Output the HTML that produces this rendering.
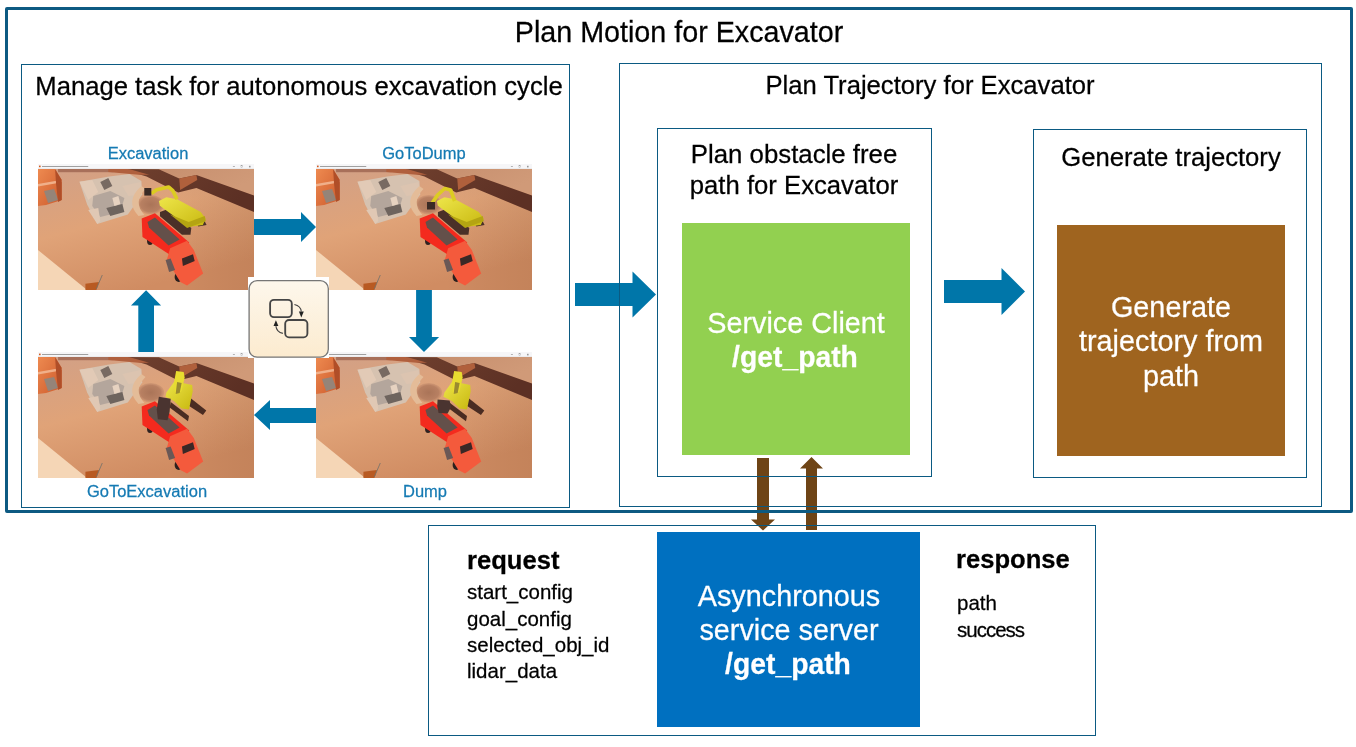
<!DOCTYPE html>
<html><head><meta charset="utf-8">
<style>
html,body{margin:0;padding:0;background:#fff;}
body{width:1356px;height:747px;position:relative;overflow:hidden;font-family:"Liberation Sans",sans-serif;color:#000;}
.a{position:absolute;box-sizing:border-box;}
.bx{position:absolute;box-sizing:border-box;border:1px solid #0b5a82;}
.t{position:absolute;white-space:nowrap;line-height:1;will-change:transform;-webkit-text-stroke:0.25px currentColor;transform:scaleY(1.02);transform-origin:50% 84.65%;}
.c{text-align:center;width:600px;}
.w{color:#fff;}
.lab{color:#157ab3;font-size:16.5px;}
svg{position:absolute;overflow:visible;}
</style></head>
<body>
<!-- blue arrows -->
<svg width="1356" height="747" style="left:0;top:0;">
<g fill="#0076a9">
<polygon points="253,219 301,219 301,212 316,227 301,242 301,235 253,235"/>
<polygon points="316,408 270,408 270,400 254,415 270,430 270,423 316,423"/>
<polygon points="138.3,352 138.3,305.5 131,305.5 146.1,290.3 161.1,305.5 154,305.5 154,352"/>
<polygon points="416.1,290 431.9,290 431.9,337 439.1,337 424,352 409,337 416.1,337"/>
<polygon points="575,283 632.5,283 632.5,271.5 656,294.5 632.5,317.5 632.5,306 575,306"/>
<polygon points="944,280 1001.5,280 1001.5,268 1025,291.5 1001.5,315 1001.5,303 944,303"/>
</g>
<g fill="#6e4416">
<polygon points="757,458 769,458 769,519.5 775,519.5 763,530.5 751,519.5 757,519.5"/>
<polygon points="806,530 817,530 817,468.5 823,468.5 811.5,457 800,468.5 806,468.5"/>
</g>
</svg>
<!-- outer frame -->
<div class="a" style="left:5px;top:7px;width:1348px;height:506px;border:3px solid #0d5a82;border-radius:2px;"></div>
<div class="t c" style="left:379px;top:17.7px;font-size:28.7px;">Plan Motion for Excavator</div>

<!-- left box -->
<div class="bx" style="left:21px;top:64px;width:549px;height:444px;"></div>
<div class="t c" style="left:-1px;top:74.3px;font-size:25.65px;">Manage task for autonomous excavation cycle</div>

<!-- right box -->
<div class="bx" style="left:619px;top:63px;width:703px;height:444px;"></div>
<div class="t c" style="left:630px;top:72.6px;font-size:25.65px;">Plan Trajectory for Excavator</div>

<!-- plan obstacle box -->
<div class="bx" style="left:657px;top:128px;width:275px;height:349px;"></div>
<div class="t c" style="left:494px;top:141.9px;font-size:25.8px;">Plan obstacle free</div>
<div class="t c" style="left:494px;top:173.1px;font-size:25.7px;">path for Excavator</div>
<div class="a" style="left:682px;top:223px;width:228px;height:232px;background:#92d050;"></div>
<div class="t c w" style="left:495.5px;top:308.9px;font-size:28.8px;">Service Client</div>
<div class="t c w" style="left:494.8px;top:343px;font-size:28.3px;font-weight:bold;">/get_path</div>

<!-- generate trajectory box -->
<div class="bx" style="left:1033px;top:129px;width:274px;height:349px;"></div>
<div class="t c" style="left:871px;top:145.3px;font-size:25.65px;">Generate trajectory</div>
<div class="a" style="left:1057px;top:225px;width:228px;height:231px;background:#9f641f;"></div>
<div class="t c w" style="left:871px;top:293.2px;font-size:28.8px;">Generate</div>
<div class="t c w" style="left:870.5px;top:326.6px;font-size:28.8px;">trajectory from</div>
<div class="t c w" style="left:871px;top:362px;font-size:28.8px;">path</div>

<!-- bottom box -->
<div class="bx" style="left:428px;top:525px;width:668px;height:211px;"></div>
<div class="a" style="left:657px;top:532px;width:263px;height:195px;background:#0070c0;"></div>
<div class="t c w" style="left:488.7px;top:581.8px;font-size:28.8px;">Asynchronous</div>
<div class="t c w" style="left:488.7px;top:615.8px;font-size:28.8px;">service server</div>
<div class="t c w" style="left:488px;top:650.4px;font-size:28.3px;font-weight:bold;">/get_path</div>

<div class="t" style="left:467px;top:548.4px;font-size:25.6px;font-weight:bold;">request</div>
<div class="t" style="left:466.5px;top:581.6px;font-size:20.5px;">start_config</div>
<div class="t" style="left:466.5px;top:608.6px;font-size:20.5px;">goal_config</div>
<div class="t" style="left:466.5px;top:635.3px;font-size:20.5px;">selected_obj_id</div>
<div class="t" style="left:466.5px;top:660.6px;font-size:20.5px;">lidar_data</div>

<div class="t" style="left:955.5px;top:547.1px;font-size:25.6px;font-weight:bold;">response</div>
<div class="t" style="left:957px;top:593.2px;font-size:20.5px;">path</div>
<div class="t" style="left:957px;top:620px;font-size:20.5px;letter-spacing:-1px;">success</div>

<svg width="0" height="0" style="left:0;top:0;">
<defs>
<linearGradient id="sand" x1="0" y1="0" x2="0.45" y2="1">
 <stop offset="0" stop-color="#d0a088"/>
 <stop offset="0.5" stop-color="#e0a378"/>
 <stop offset="1" stop-color="#d08c62"/>
</linearGradient>
<linearGradient id="sand2" x1="0" y1="0" x2="1" y2="0">
 <stop offset="0" stop-color="#000" stop-opacity="0"/>
 <stop offset="0.6" stop-color="#000" stop-opacity="0"/>
 <stop offset="1" stop-color="#3a1a00" stop-opacity="0.08"/>
</linearGradient>
<linearGradient id="plat" x1="0" y1="0" x2="1" y2="0.4">
 <stop offset="0" stop-color="#c48c6c"/>
 <stop offset="1" stop-color="#d09a78"/>
</linearGradient>
<linearGradient id="wall" x1="0" y1="0" x2="1" y2="0.3">
 <stop offset="0" stop-color="#70402e"/>
 <stop offset="1" stop-color="#5c3024"/>
</linearGradient>
<linearGradient id="brick" x1="0" y1="0" x2="1" y2="1">
 <stop offset="0" stop-color="#ee8a50"/>
 <stop offset="1" stop-color="#cc5a2c"/>
</linearGradient>
<radialGradient id="pit" cx="0.5" cy="0.5" r="0.5">
 <stop offset="0" stop-color="#aa7458"/>
 <stop offset="0.75" stop-color="#b88062"/>
 <stop offset="1" stop-color="#c89070" stop-opacity="0.6"/>
</radialGradient>
<linearGradient id="yel" x1="0" y1="0" x2="1" y2="1">
 <stop offset="0" stop-color="#eee64a"/>
 <stop offset="1" stop-color="#c8b810"/>
</linearGradient>
<g id="scenebase">
 <rect x="0" y="0" width="215" height="126" fill="url(#sand)"/>
 <rect x="0" y="0" width="215" height="126" fill="url(#sand2)"/>
 <!-- far strip -->
 <rect x="20" y="5" width="55" height="3.2" fill="#a8705a"/>
 <!-- plateau top right -->
 <polygon points="86,5 215,5 215,31.5 157.7,11 140.6,14.5 120.3,5.2" fill="url(#plat)"/>
 <!-- wall -->
 <polygon points="86,5 120.3,5.2 140.6,14.5 157.7,11 215,31.5 215,48 157.7,24 139.5,28.5 108,12.5 88,6.5" fill="url(#wall)"/>
 <polygon points="70,5 89,5 91.4,5.3 110.6,10.7 100,10.7 70,8" fill="#b0603e"/>
 <polygon points="140.6,14.5 157.7,11 158.5,16 141.5,26" fill="#b0603c"/>
 <!-- top-left brick building -->
 <polygon points="0,5 17,5 23.6,16 23.6,36 8,41 0,42" fill="url(#brick)"/>
 <polygon points="0,20 17,17 23.6,16 23.6,18 17,19.5 0,22.5" fill="#f0b08a"/>
 <polygon points="6,27 16,25 20.2,36 10,39" fill="#958478"/>
 <polygon points="17,5 23.6,16 23.6,36 20,38 18,20" fill="#b04e28"/>
 <!-- ruins -->
 <polygon points="41.3,17.7 70.8,12.6 91,10.1 102.9,16.9 103.7,30.4 89.4,50.6 59,59.9 48.9,40.5" fill="#d6c2b0"/>
 <polygon points="41.3,17.7 54,16 60,28 50,36" fill="#e2cab6"/>
 <polygon points="55,32 72,27 86,34 82,48 62,53 54,42" fill="#b4a69c"/>
 <polygon points="68,44 84,40 86,48 72,52" fill="#6e645e"/>
 <polygon points="84,22 102,18 103.7,30.4 90,32" fill="#dcc4b0"/>
 <polygon points="50,46 60,44 62,57 59,59.9" fill="#e0c8b4"/>
 <polygon points="62,18 70,14 74,22 66,26" fill="#786a62"/>
 <polygon points="74,34 80,32 82,40 76,42" fill="#e6d2c0"/>
 <ellipse cx="112.2" cy="40.6" rx="13.4" ry="9.6" fill="url(#pit)"/>
 <!-- light ring around pit -->
 <path d="M103,22 Q86,37 100,52 L106,51 Q94,38 107,25 Z" fill="#e4bc98"/>
 <!-- bottom-left light triangle -->
 <polygon points="0,86 48.9,126 0,126" fill="#f5d6b6"/>
 <polygon points="47.2,119.7 60.7,118 58.2,126 47.2,126" fill="#b85a22"/>
 <line x1="58" y1="125" x2="64" y2="111" stroke="#70706a" stroke-width="0.8"/>
</g>
<g id="truck">
 <ellipse cx="108" cy="69" rx="3" ry="4.5" fill="#2e2220"/>
 <ellipse cx="111.5" cy="76.5" rx="3" ry="4.5" fill="#2e2220"/>
 <ellipse cx="140" cy="113" rx="4" ry="5" fill="#2a201e"/>
 <polygon points="103.2,54.5 116.4,49.2 150.6,78.4 133.2,92 104,73" fill="#f42a1e"/>
 <polygon points="109,58 116.4,53.5 141,75.5 130,81.5 110.5,63.5" fill="#64504a"/>
 <polygon points="131.5,84.3 148.4,76.7 155.1,86 164.4,109.6 148.4,121.4 141.7,118 128.2,96.1" fill="#f45a3c"/>
 <polygon points="143.3,94.4 154.3,90.2 156,97 144.2,102" fill="#3a2826"/>
 <polygon points="127,96 132,94.5 136.5,106 130.5,108" fill="#6a5856"/>
</g>
<g id="exc1">
 <polygon points="121.4,48.1 128.2,45.5 152.6,64.1 151.8,70.8 143.3,70.8 121.4,52.3" fill="#4a3028"/>
 <polygon points="157.7,56.5 165,55.5 167.8,61 159.5,62.4" fill="#4a3028"/>
 <polygon points="120.3,36.9 127.8,33.2 138.4,35.3 162,48.1 166.8,54.5 164.1,61 149.1,63.1 134.2,51.3 121.3,41.7" fill="url(#yel)"/>
 <polygon points="131.5,50.6 148.4,64.1 167,57.3 166,52 150,58" fill="#b4a412"/>
 <polyline points="112.8,29.4 118.1,25.7 129.9,23 134.2,26.7 138.4,35.3" fill="none" stroke="#dccc22" stroke-width="3.7" stroke-linejoin="round"/>
 <rect x="105.8" y="24" width="7" height="7.6" fill="#3a2a25"/>
</g>
<g id="exc1b">
 <polygon points="121.4,48.1 128.2,45.5 152.6,64.1 151.8,70.8 143.3,70.8 121.4,52.3" fill="#4a3028"/>
 <polygon points="157.7,56.5 165,55.5 167.8,61 159.5,62.4" fill="#4a3028"/>
 <polygon points="120.3,36.9 127.8,33.2 138.4,35.3 162,48.1 166.8,54.5 164.1,61 149.1,63.1 134.2,51.3 121.3,41.7" fill="url(#yel)"/>
 <polygon points="131.5,50.6 148.4,64.1 167,57.3 166,52 150,58" fill="#b4a412"/>
 <polyline points="115,40 121,31 128.2,24.5 134,26 138,37" fill="none" stroke="#dccc22" stroke-width="3.7" stroke-linejoin="round"/>
 <rect x="110.5" y="38" width="8" height="7.5" fill="#3a2a25"/>
</g>
<g id="exc2">
 <polygon points="132.1,50 150.3,64 149.3,69.3 131,55.4" fill="#4a2c22"/>
 <polygon points="151.4,45.8 167.5,58.6 164.2,62.9 149.3,53.3" fill="#4a2c22"/>
 <polygon points="142.8,30.8 153.5,32.9 154,39.3 150.3,57.5 142.8,56.5 135.3,49 126.8,44.7 127.8,40.4 136.4,28.6" fill="url(#yel)"/>
 <polygon points="137.5,19 145,20 146,25.4 142.8,39.3 136.4,42.5 135.3,30.8" fill="#e8dc30"/>
 <polygon points="138.5,30 143,31 141,41 137,42" fill="#9a8a30"/>
 <polygon points="120.3,44.7 132.1,46.8 131,59.7 128.9,68.2 119.3,67.2 118.2,57.5" fill="#4a3430"/>
</g>
<g id="exc2b">
 <polygon points="132.1,50 150.3,64 149.3,69.3 131,55.4" fill="#4a2c22"/>
 <polygon points="151.4,45.8 167.5,58.6 164.2,62.9 149.3,53.3" fill="#4a2c22"/>
 <polygon points="142.8,30.8 153.5,32.9 154,39.3 150.3,57.5 142.8,56.5 135.3,49 126.8,44.7 127.8,40.4 136.4,28.6" fill="url(#yel)"/>
 <polygon points="137.5,19 145,20 146,25.4 142.8,39.3 136.4,42.5 135.3,30.8" fill="#e8dc30"/>
 <polygon points="138.5,30 143,31 141,41 137,42" fill="#9a8a30"/>
 <polygon points="121,47.5 133,48.5 134.5,55 131,61.6 122,61 120.6,54" fill="#4a3430"/>
</g>
<g id="tbar">
 <rect x="0" y="0" width="215" height="5" fill="#f6f6f8"/>
 <rect x="0" y="4.6" width="215" height="0.4" fill="#dddddd"/>
 <rect x="1" y="1.6" width="1.6" height="1.6" fill="#d05a20"/>
 <rect x="4" y="2" width="46" height="1" fill="#a0a0a0"/>
 <rect x="194" y="2.2" width="2" height="0.6" fill="#888"/>
 <rect x="202" y="1.6" width="1.8" height="1.8" fill="none" stroke="#999" stroke-width="0.4"/>
 <rect x="210" y="1.8" width="1.6" height="1.6" fill="#999"/>
</g>
</defs>
</svg>
<svg width="216" height="126" viewBox="0 0 215 126" preserveAspectRatio="none" style="left:38px;top:164px;overflow:hidden"><use href="#scenebase"/><use href="#exc1"/><use href="#truck"/><use href="#tbar"/></svg>
<svg width="216" height="126" viewBox="0 0 215 126" preserveAspectRatio="none" style="left:316px;top:164px;overflow:hidden"><use href="#scenebase"/><use href="#exc1b"/><use href="#truck"/><use href="#tbar"/></svg>
<svg width="216" height="126" viewBox="0 0 215 126" preserveAspectRatio="none" style="left:38px;top:352px;overflow:hidden"><use href="#scenebase"/><use href="#truck"/><use href="#exc2"/><use href="#tbar"/></svg>
<svg width="216" height="126" viewBox="0 0 215 126" preserveAspectRatio="none" style="left:316px;top:352px;overflow:hidden"><use href="#scenebase"/><use href="#truck"/><use href="#exc2b"/><use href="#tbar"/></svg>

<!-- state icon -->
<svg width="81" height="81" viewBox="0 0 81 81" style="left:248px;top:277px;">
<defs><linearGradient id="icg" x1="0" y1="0" x2="0" y2="1"><stop offset="0" stop-color="#fdf7ec"/><stop offset="1" stop-color="#fcebcf"/></linearGradient></defs>
<rect x="0" y="0" width="81" height="81" fill="#fff"/>
<rect x="1.1" y="3.6" width="79.2" height="76.6" rx="8" ry="8" fill="url(#icg)" stroke="#767676" stroke-width="1.3"/>
<rect x="22.1" y="22.9" width="21.7" height="17.2" rx="3.8" ry="3.8" fill="none" stroke="#454545" stroke-width="1.85"/>
<rect x="37.2" y="43" width="22.2" height="17.3" rx="3.8" ry="3.8" fill="none" stroke="#454545" stroke-width="1.85"/>
<path d="M46.4,27.5 Q52.8,29 53.3,34.5" fill="none" stroke="#444" stroke-width="1.1"/>
<polygon points="50.9,34.5 55.8,34.5 53.3,40.4" fill="#222"/>
<path d="M34.9,56.4 Q28.5,55 27.9,49.1" fill="none" stroke="#444" stroke-width="1.1"/>
<polygon points="25.5,49.1 30.4,49.1 27.9,43.2" fill="#222"/>
</svg>
<!-- labels -->
<div class="t c lab" style="left:-152.2px;top:144.5px;">Excavation</div>
<div class="t c lab" style="left:124.4px;top:144.5px;">GoToDump</div>
<div class="t c lab" style="left:-152.6px;top:482.5px;">GoToExcavation</div>
<div class="t c lab" style="left:124.5px;top:482.5px;">Dump</div>


</body></html>
